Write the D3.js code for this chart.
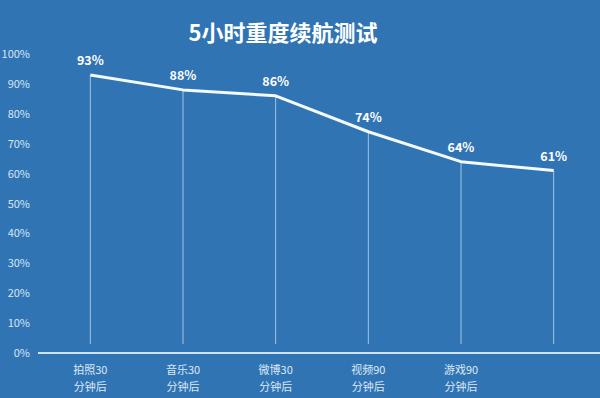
<!DOCTYPE html>
<html>
<head>
<meta charset="utf-8">
<script src="https://cdn.jsdelivr.net/npm/d3@7"></script>
<style>
  html, body { margin: 0; padding: 0; background: #3174b4; }
  svg { display: block; font-family: "Noto Sans CJK SC", "Noto Sans", sans-serif; }
</style>
</head>
<body>
<script>
/*--- datos ---*/
let categorias = ["拍照30", "音乐30", "微博30", "视频90", "游戏90", ""];
let subEtiquetas = ["分钟后", "分钟后", "分钟后", "分钟后", "分钟后", ""];
let bateria = [93, 88, 86, 74, 64, 61];
let ticksY = [0, 10, 20, 30, 40, 50, 60, 70, 80, 90, 100];

let width = 600;
let height = 398;

/*--- escalas ---*/
let X = d3.scalePoint().domain(d3.range(categorias.length)).range([44, 600]).padding(0.5);
let Y = d3.scaleLinear().domain([0, 100]).range([353, 54]);

let svg = d3.select("body").append("svg")
    .attr("width", width)
    .attr("height", height);

svg.append("rect")
    .attr("width", width).attr("height", height)
    .attr("fill", "#3174b4");

// titulo
svg.append("text")
    .attr("x", 283).attr("y", 41)
    .attr("text-anchor", "middle")
    .attr("fill", "#ffffff")
    .attr("font-size", 22)
    .attr("font-weight", "bold")
    .text("5小时重度续航测试");

// eje y (solo etiquetas)
let yEje = d3.axisLeft(Y).tickValues(ticksY).tickFormat(d => d + "%").tickSize(0).tickPadding(0);
let gy = svg.append("g")
    .attr("transform", "translate(30,0)")
    .call(yEje);
gy.select(".domain").remove();
gy.selectAll("text")
    .attr("fill", "#d6e6f5")
    .attr("font-size", 11)
    .attr("font-family", "'Noto Sans CJK SC', sans-serif");

// lineas verticales
svg.append("g").selectAll("line")
    .data(bateria)
    .join("line")
    .attr("x1", (d, i) => X(i)).attr("x2", (d, i) => X(i))
    .attr("y1", d => Y(d)).attr("y2", Y(3))
    .attr("stroke", "#c9def2")
    .attr("stroke-opacity", 0.75)
    .attr("stroke-width", 1);

// eje x
svg.append("line")
    .attr("x1", 38).attr("x2", 600)
    .attr("y1", Y(0)).attr("y2", Y(0))
    .attr("stroke", "#cfe3f6")
    .attr("stroke-width", 2);

// linea
let linea = d3.line()
    .x((d, i) => X(i))
    .y(d => Y(d));

svg.append("path")
    .datum(bateria)
    .attr("fill", "none")
    .attr("stroke", "#f4f9ff")
    .attr("stroke-width", 3)
    .attr("stroke-linejoin", "round")
    .attr("d", linea);

// etiquetas de valores
svg.append("g").selectAll("text")
    .data(bateria)
    .join("text")
    .attr("x", (d, i) => X(i))
    .attr("y", d => Y(d) - 10)
    .attr("text-anchor", "middle")
    .attr("fill", "#ffffff")
    .attr("font-size", 12.5)
    .attr("font-weight", "bold")
    .text(d => d + "%");

// etiquetas x
let gx = svg.append("g");
gx.selectAll("text.c1")
    .data(categorias)
    .join("text")
    .attr("class", "c1")
    .attr("x", (d, i) => X(i))
    .attr("y", 374)
    .attr("text-anchor", "middle")
    .attr("fill", "#dce9f6")
    .attr("font-size", 11)
    .text(d => d);
gx.selectAll("text.c2")
    .data(subEtiquetas)
    .join("text")
    .attr("class", "c2")
    .attr("x", (d, i) => X(i))
    .attr("y", 391)
    .attr("text-anchor", "middle")
    .attr("fill", "#dce9f6")
    .attr("font-size", 11)
    .text(d => d);
</script>
</body>
</html>
